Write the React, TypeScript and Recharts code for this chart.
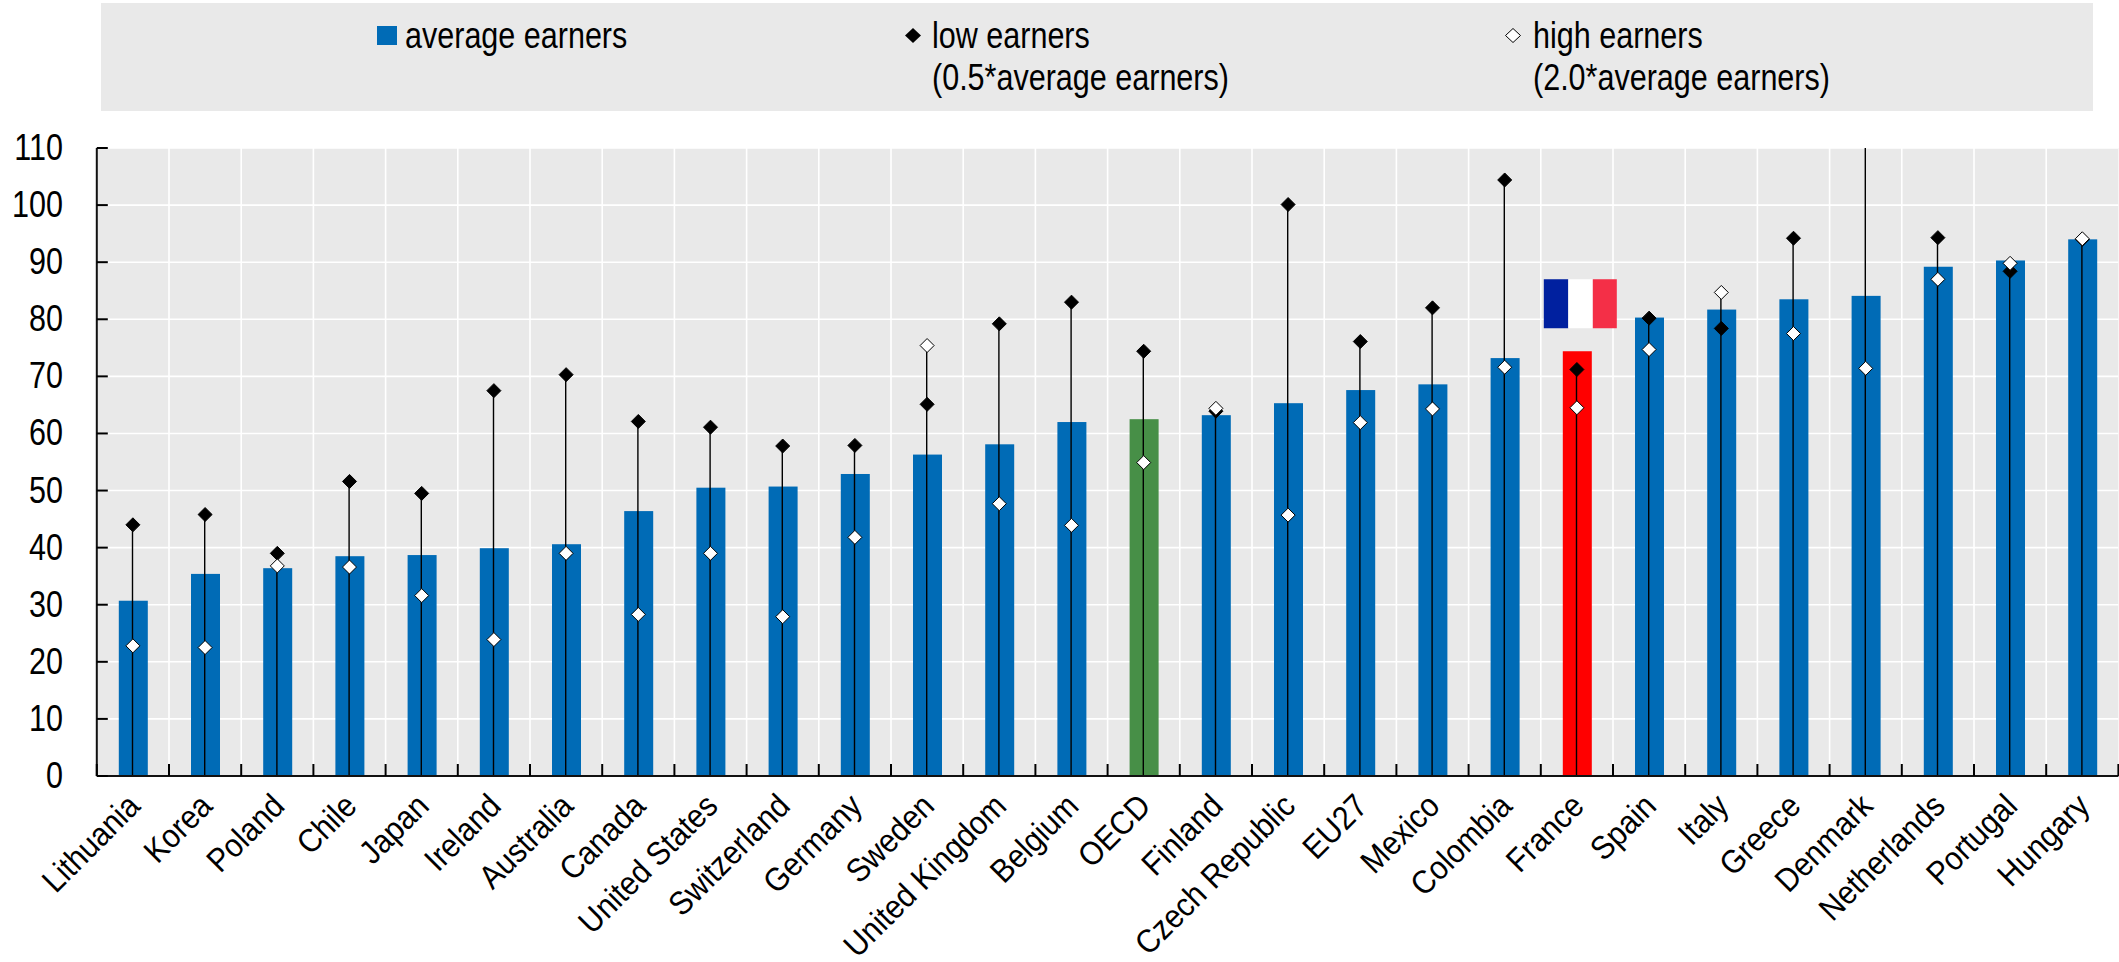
import React from 'react';
import { Bar, CartesianGrid, ComposedChart, Line, XAxis, YAxis } from 'recharts';

const countries = [
  'Lithuania', 'Korea', 'Poland', 'Chile', 'Japan', 'Ireland', 'Australia',
  'Canada', 'United States', 'Switzerland', 'Germany', 'Sweden', 'United Kingdom', 'Belgium',
  'OECD', 'Finland', 'Czech Republic', 'EU27', 'Mexico', 'Colombia', 'France',
  'Spain', 'Italy', 'Greece', 'Denmark', 'Netherlands', 'Portugal', 'Hungary',
];
const averageEarners = [
  30.7, 35.4, 36.4, 38.5, 38.7, 39.9, 40.6,
  46.4, 50.5, 50.7, 52.9, 56.3, 58.1, 62.0,
  62.5, 63.2, 65.3, 67.6, 68.6, 73.2, 74.4,
  80.3, 81.7, 83.5, 84.1, 89.2, 90.3, 94.0,
];
// Denmark's low earners value is off the scale in the picture
const lowEarners = [
  44.0, 45.8, 39.0, 51.6, 49.5, 67.5, 70.3,
  62.1, 61.1, 57.8, 57.9, 65.1, 79.2, 83.0,
  74.4, 63.9, 100.1, 76.1, 82.0, 104.4, 71.2,
  80.2, 78.4, 94.2, 120, 94.3, 88.4, 94.0,
];
const highEarners = [
  22.8, 22.5, 36.8, 36.6, 31.6, 23.9, 39.0,
  28.3, 39.0, 27.9, 41.8, 75.4, 47.7, 43.9,
  54.9, 64.4, 45.7, 61.9, 64.3, 71.6, 64.5,
  74.7, 84.7, 77.5, 71.4, 87.0, 89.8, 94.1,
];
const yTicks = [0, 10, 20, 30, 40, 50, 60, 70, 80, 90, 100, 110];

const data = countries.map((name, i) => ({
  name,
  average: averageEarners[i],
  low: lowEarners[i],
  high: highEarners[i],
  stem: Math.max(lowEarners[i], highEarners[i]),
}));

const W = 2119;
const H = 962;
const PLOT_LEFT = 96.8;
const PLOT_RIGHT = 2118.4;
const PLOT_TOP = 148;
const PLOT_BOTTOM = 776;
const BAND = (PLOT_RIGHT - PLOT_LEFT) / countries.length;
const gridX = countries.slice(1).map((_, i) => PLOT_LEFT + BAND * (i + 1));

const BLUE = '#006BB6';
const FONT = '"Liberation Sans", Arial, sans-serif';
// the source text is squeezed horizontally, about like Arial Narrow
const SQUEEZE = 0.825;

const barColor = (name: string) => (name === 'OECD' ? '#478F47' : name === 'France' ? '#FF0000' : BLUE);

const AverageBar = (props: any) => {
  const { x, y, width, height, payload } = props;
  return (
    <g>
      <rect x={x} y={y} width={width} height={height} fill={barColor(payload.name)} />
      {payload.name === 'France' && (
        <g>
          <rect x={x - 19} y={y - 72} width={24.5} height={49} fill="#00209F" />
          <rect x={x + 5.5} y={y - 72} width={24.5} height={49} fill="#FFFFFF" />
          <rect x={x + 30} y={y - 72} width={24} height={49} fill="#F42F47" />
        </g>
      )}
    </g>
  );
};

const Diamond = ({ cx, cy, fill, stroke, r = 7 }: any) => (
  <path
    d={`M${cx - r} ${cy}L${cx} ${cy - r}L${cx + r} ${cy}L${cx} ${cy + r}Z`}
    fill={fill}
    stroke={stroke}
    strokeWidth={1}
  />
);

const YTick = ({ y, payload }: any) => (
  <g>
    <line x1={PLOT_LEFT} x2={PLOT_LEFT + 11} y1={y} y2={y} stroke="#000" strokeWidth={2} />
    <text
      textAnchor="end"
      fontFamily={FONT}
      fontSize={37}
      fill="#000"
      transform={`translate(63 ${y + 12}) scale(${SQUEEZE} 1)`}
    >
      {payload.value}
    </text>
  </g>
);

const XTick = ({ x, payload, index }: any) => (
  <g>
    <line x1={x - BAND / 2} x2={x - BAND / 2} y1={PLOT_BOTTOM} y2={PLOT_BOTTOM - 12} stroke="#000" strokeWidth={2} />
    {index === countries.length - 1 && (
      <line x1={x + BAND / 2} x2={x + BAND / 2} y1={PLOT_BOTTOM} y2={PLOT_BOTTOM - 12} stroke="#000" strokeWidth={2} />
    )}
    <text
      textAnchor="end"
      fontFamily={FONT}
      fontSize={33}
      fill="#000"
      transform={`translate(${x + 9} ${PLOT_BOTTOM + 32}) rotate(-45) scale(0.91 1)`}
    >
      {payload.value}
    </text>
  </g>
);

const legendText: React.CSSProperties = {
  position: 'absolute',
  fontFamily: FONT,
  fontSize: 37,
  lineHeight: '42px',
  color: '#000',
  whiteSpace: 'nowrap',
  transform: `scaleX(${SQUEEZE})`,
  transformOrigin: 'left top',
};

function ChartLegend() {
  return (
    <div style={{ position: 'absolute', left: 101, top: 3, width: 1992, height: 108, background: '#E9E9E9' }}>
      <div style={{ position: 'absolute', left: 276, top: 23, width: 20, height: 19, background: BLUE }} />
      <div style={{ ...legendText, left: 304, top: 12 }}>average earners</div>
      <svg style={{ position: 'absolute', left: 803, top: 24 }} width={18} height={17}>
        <path d="M1 8.5L9 1L17 8.5L9 16Z" fill="#000" />
      </svg>
      <div style={{ ...legendText, left: 831, top: 12 }}>
        low earners
        <br />
        (0.5*average earners)
      </div>
      <svg style={{ position: 'absolute', left: 1403, top: 24 }} width={18} height={17}>
        <path d="M1.5 8.5L9 1.5L16.5 8.5L9 15.5Z" fill="#fff" stroke="#000" strokeWidth={1} />
      </svg>
      <div style={{ ...legendText, left: 1432, top: 12 }}>
        high earners
        <br />
        (2.0*average earners)
      </div>
    </div>
  );
}

export default function App() {
  return (
    <div style={{ position: 'absolute', left: 0, top: 0, width: W, height: H, background: '#fff' }}>
      <ChartLegend />
      <ComposedChart
        width={W}
        height={H}
        data={data}
        margin={{ top: PLOT_TOP, right: W - PLOT_RIGHT, bottom: 0, left: 0 }}
        style={{ position: 'absolute', left: 0, top: 0 }}
      >
        <CartesianGrid fill="#E9E9E9" stroke="#FFFFFF" strokeWidth={1.6} verticalPoints={gridX} />
        <XAxis
          dataKey="name"
          height={H - PLOT_BOTTOM}
          interval={0}
          axisLine={{ stroke: '#111', strokeWidth: 2 }}
          tickLine={false}
          tick={<XTick />}
        />
        <XAxis dataKey="name" xAxisId="stem" hide />
        <YAxis
          width={PLOT_LEFT}
          domain={[0, 110]}
          ticks={yTicks}
          interval={0}
          allowDataOverflow
          axisLine={{ stroke: '#111', strokeWidth: 2 }}
          tickLine={false}
          tick={<YTick />}
        />
        <Bar dataKey="average" barSize={29} shape={<AverageBar />} isAnimationActive={false} />
        <Bar dataKey="stem" xAxisId="stem" barSize={1.4} fill="#000" isAnimationActive={false} />
        <Line dataKey="low" stroke="none" dot={<Diamond fill="#000" stroke="#000" r={7} />} activeDot={false} isAnimationActive={false} />
        <Line dataKey="high" stroke="none" dot={<Diamond fill="#fff" stroke="#000" r={7} />} activeDot={false} isAnimationActive={false} />
      </ComposedChart>
    </div>
  );
}
